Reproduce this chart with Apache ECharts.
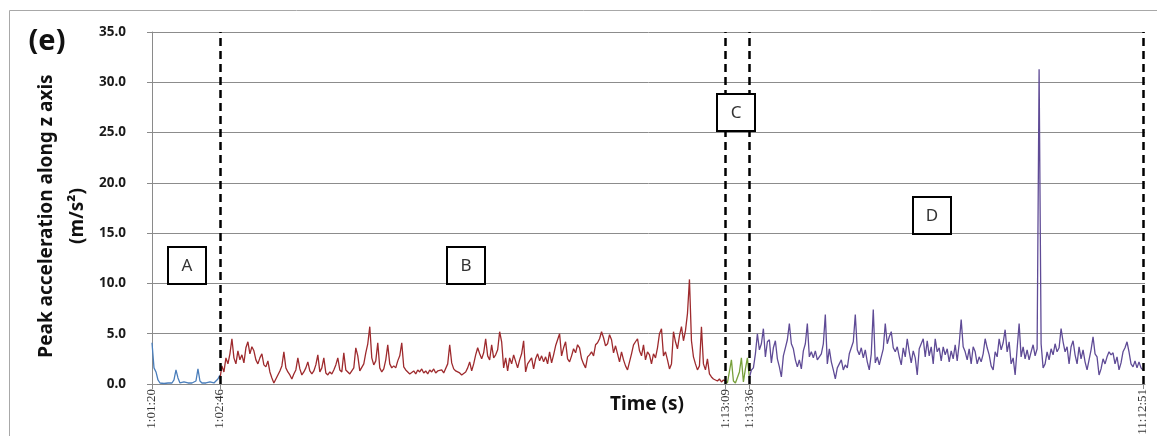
<!DOCTYPE html>
<html><head><meta charset="utf-8">
<script src="https://cdn.jsdelivr.net/npm/echarts@6/dist/echarts.min.js"></script>
<style>html,body{margin:0;padding:0;background:#fff}#c{width:1157px;height:436px}</style>
</head><body><div id="c"></div>
<script>
// Segment A (blue)
const segA = [4.1,1.6,1.2,0.4,0.1,0.1,0.05,0.1,0.1,0.1,
  0.1,0.4,1.4,0.6,0.1,0.1,0.2,0.1,0.1,0.2,
  0.1,0.1,0.3,1.5,0.3,0.1,0.2,0.1,0.1,0.2,
  0.1,0.1,0.3,0.5,0.9];
// Segment B (red)
const segB = [0.5,1.8,1.2,2.6,2.0,3.0,4.5,2.6,2.0,3.3,
  2.4,2.9,2.1,3.6,4.2,3.0,3.7,3.3,2.4,2.0,
  2.6,3.0,1.9,1.7,2.3,1.2,0.6,0.1,0.5,0.9,
  1.3,1.8,3.2,1.6,1.2,0.9,0.5,1.0,1.4,2.6,
  1.5,0.9,1.2,1.6,2.2,1.3,1.0,1.3,1.9,2.9,
  1.2,1.6,2.6,1.1,0.9,1.2,1.0,1.4,1.9,2.6,
  1.4,1.2,3.1,1.4,1.2,1.0,1.3,1.6,3.6,2.8,
  1.3,1.2,2.0,3.1,4.0,5.7,2.6,1.9,2.3,4.1,
  1.6,1.2,1.5,2.4,3.9,2.0,1.6,1.8,1.6,2.3,
  2.8,4.1,1.7,1.4,1.2,1.0,1.1,1.3,1.0,1.4,
  1.2,1.5,1.1,1.3,1.0,1.4,1.2,1.5,1.1,1.3,
  1.2,1.4,1.1,1.2,2.0,3.9,2.1,1.5,1.3,1.4,
  1.1,0.9,0.8,1.2,1.6,2.2,1.3,2.0,2.9,3.6,
  3.0,2.5,3.1,4.5,2.8,2.4,3.9,2.6,2.9,3.4,
  5.2,4.2,1.6,2.6,1.3,2.6,2.0,2.9,2.8,1.6,
  2.4,3.0,4.3,1.2,2.0,2.3,2.6,1.5,2.5,3.0,
  2.3,2.8,2.2,2.7,2.0,3.2,2.1,2.9,3.8,4.4,
  5.0,2.8,3.6,4.2,2.5,2.2,2.8,3.5,3.1,3.9,
  3.6,2.5,2.0,1.6,2.7,2.9,3.2,2.8,3.9,4.1,
  4.5,5.2,4.6,3.8,4.0,4.9,4.4,3.1,3.8,3.0,
  2.2,3.2,2.4,1.8,1.4,2.2,3.0,3.9,4.2,4.5,
  3.3,2.8,3.9,2.4,3.2,2.9,2.0,3.0,2.6,3.6,
  5.0,5.5,2.8,3.2,2.4,1.5,2.0,5.2,4.2,3.5,
  4.8,5.7,4.3,5.3,7.0,10.4,4.3,2.7,2.0,1.4,
  1.8,5.7,2.0,1.4,2.5,1.0,0.7,0.5,0.6,0.3,
  0.5,0.2,0.4,0.3];
// Segment C (green)
const segC = [0.3,0.1,0.2,2.4,0.3,0.1,0.2,1.2,2.6,0.2,1.5,2.6,0.6];
// Segment D (purple)
const segD = [0.6,1.4,1.6,3.0,5.0,3.4,4.0,5.5,2.7,4.2,
  4.4,2.1,3.6,4.3,2.5,1.7,0.7,2.8,3.6,4.4,
  6.0,4.0,3.5,2.4,1.7,2.4,1.5,3.3,4.0,6.0,
  2.7,3.2,2.6,3.3,2.4,2.7,3.0,4.0,6.9,2.0,
  3.5,2.2,1.4,0.5,1.6,2.0,2.4,1.4,1.9,1.6,
  3.0,3.6,4.2,6.9,3.4,2.9,3.6,2.6,3.4,2.2,
  1.4,3.0,7.4,2.1,2.7,1.9,2.7,3.5,6.0,4.0,
  4.7,5.2,3.6,3.2,3.7,2.7,1.9,3.6,2.7,4.5,
  3.2,2.1,3.3,2.6,0.9,3.5,4.0,4.5,2.7,4.3,
  2.8,3.7,2.0,4.5,3.2,3.6,2.3,3.7,2.9,3.5,
  2.2,3.3,2.5,3.9,2.3,4.0,6.4,3.7,3.2,2.4,
  3.5,2.0,3.7,3.2,2.0,2.7,2.2,3.0,4.5,3.6,
  2.9,1.8,1.4,3.2,2.7,4.5,3.4,4.1,5.4,3.2,
  4.2,2.0,2.6,0.9,3.5,6.0,2.7,3.7,2.5,3.4,
  2.4,3.2,3.9,2.8,3.5,31.3,4.0,1.6,2.0,3.2,
  2.4,3.5,2.9,4.0,3.2,3.6,5.5,4.2,3.2,3.7,
  2.0,3.7,4.3,2.9,2.0,3.7,2.5,3.4,2.2,1.4,
  2.4,3.4,4.7,3.0,2.7,0.9,1.5,2.5,2.0,2.7,
  3.2,2.9,3.1,2.0,2.7,1.4,2.1,3.2,3.6,4.2,
  3.2,2.0,1.7,2.3,1.6,2.2,1.6,1.4];
const tickLabels = ['1:01:20','1:02:46','1:13:09','1:13:36','11:12:51'];
const phaseLabels = ['A','B','C','D'];

const colors = ['#4a7ebb','#9e2a2d','#77a03a','#5f4b96'];
const segs = [segA, segB, segC, segD];
const starts = [];
let s = 0;
segs.forEach(seg => { starts.push(s); s += seg.length - 1; });
const endIdx = s;
const boundaries = starts.concat([endIdx]);

const series = segs.map((seg, k) => ({
  type: 'line', data: seg.map((v, i) => [starts[k] + i, v]),
  symbol: 'none', lineStyle: {color: colors[k], width: 1.3}, itemStyle:{color: colors[k]},
  silent: true, z: 3
}));
series.push({
  type: 'line', data: [], silent: true,
  markLine: {
    symbol: ['none','none'], silent: true, animation: false,
    label: {show: false},
    lineStyle: {color: '#000', width: 2.5, type: [8,5]},
    data: boundaries.slice(1).map(b => ({xAxis: b}))
  }
});

const chart = echarts.init(document.getElementById('c'));
const boxes = [
  {t: phaseLabels[0], x: 168, y: 247},
  {t: phaseLabels[1], x: 447, y: 247},
  {t: phaseLabels[2], x: 717, y: 94},
  {t: phaseLabels[3], x: 913, y: 197}
];
const graphics = [
  {type:'rect', shape:{x:9.5,y:10.5,width:1170,height:450}, style:{fill:'none',stroke:'#a8a8a8',lineWidth:1}, silent:true},
  {type:'text', x:47, y:42, style:{text:'(e)', font:'bold 29px "Noto Sans"', fill:'#111', textAlign:'center', textVerticalAlign:'middle'}},
  {type:'text', x:47, y:216, rotation:Math.PI/2, style:{text:'Peak acceleration along z axis', font:'bold 19px "Noto Sans"', fill:'#111', textAlign:'center', textVerticalAlign:'middle'}},
  {type:'text', x:78, y:216, rotation:Math.PI/2, style:{text:'(m/s²)', font:'bold 19px "Noto Sans"', fill:'#111', textAlign:'center', textVerticalAlign:'middle'}},
  {type:'text', x:647, y:405, style:{text:'Time (s)', font:'bold 19px "Noto Sans"', fill:'#111', textAlign:'center', textVerticalAlign:'middle'}}
];
boxes.forEach(b => {
  graphics.push({type:'rect', shape:{x:b.x,y:b.y,width:38,height:37}, style:{fill:'#fff',stroke:'#000',lineWidth:2}, z:10});
  graphics.push({type:'text', x:b.x+19, y:b.y+19, z:11, style:{text:b.t, font:'17px "Noto Sans"', fill:'#333', textAlign:'center', textVerticalAlign:'middle'}});
});

chart.setOption({
  animation: false,
  grid: {left:152, right:12, top:32, bottom:52, containLabel:false, outerBoundsMode:'none'},
  xAxis: {
    type:'value', min:0, max:endIdx+1,
    splitLine:{show:false},
    axisLine:{lineStyle:{color:'#8a8a8a', width:1}},
    axisTick:{show:true, customValues: boundaries, length:5, lineStyle:{color:'#8a8a8a'}},
    axisLabel:{customValues: boundaries, rotate:90, margin:5, fontFamily:'"Liberation Serif"', fontSize:13, color:'#333',
      formatter: v => { const i = boundaries.indexOf(v); return i >= 0 ? tickLabels[i] : ''; }},
  },
  yAxis: {
    type:'value', min:0, max:35, interval:5,
    axisLine:{show:true, lineStyle:{color:'#8a8a8a'}},
    axisTick:{show:true, length:5, lineStyle:{color:'#8a8a8a'}},
    splitLine:{show:true, lineStyle:{color:'#8c8c8c', width:1}},
    axisLabel:{margin:26, fontFamily:'"Noto Sans"', fontWeight:'bold', fontSize:13.5, color:'#1a1a1a', formatter: v => v.toFixed(1)}
  },
  series: series,
  graphic: graphics
});
</script></body></html>
